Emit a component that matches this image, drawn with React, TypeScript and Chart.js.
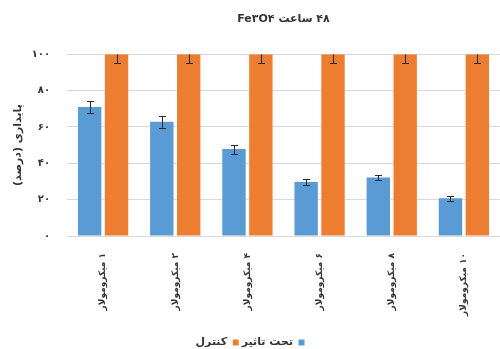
import { useEffect, useRef } from 'react';
import { Chart, registerables } from 'chart.js';

Chart.register(...registerables);

// Concentrations on the category axis
const concentrations = ['۱ میکرومولار', '۲ میکرومولار', '۴ میکرومولار', '۶ میکرومولار', '۸ میکرومولار', '۱۰ میکرومولار'];
// Viability (%) of treated cells and their error margins
const treatedValues = [71, 62.8, 47.8, 29.7, 32.2, 20.7];
const treatedErrors = [3.5, 3.3, 2.5, 1.6, 1.5, 1.2];
// Control viability (%) and error margins
const controlValues = [100, 100, 100, 100, 100, 100];
const controlErrors = [5, 5, 5, 5, 5, 5];
// Value axis ticks
const yTickValues = [0, 20, 40, 60, 80, 100];
const seriesNames = ['تحت تاثیر', 'کنترل'];
const chartTitle = '۴۸ ساعت Fe۳O۴';
const yAxisTitle = 'پایداری (درصد)';

const FONT = '"DejaVu Sans", sans-serif';
const TEXT = '#333333';
const RLE = '\u202B';
const PDF = '\u202C';

const toPersianDigits = (n: number | string) =>
  String(n).replace(/\d/g, (d) => '۰۱۲۳۴۵۶۷۸۹'[Number(d)]);

// Draws symmetric error bars with caps on top of each bar
const errorBarsPlugin = {
  id: 'errorBars',
  afterDatasetsDraw(chart: any) {
    const { ctx, chartArea } = chart;
    const yScale = chart.scales.y;
    ctx.save();
    ctx.beginPath();
    ctx.rect(chartArea.left, chartArea.top, chartArea.right - chartArea.left, chartArea.bottom - chartArea.top);
    ctx.clip();
    ctx.strokeStyle = '#2b2b2b';
    ctx.lineWidth = 1;
    chart.data.datasets.forEach((ds: any, di: number) => {
      const meta = chart.getDatasetMeta(di);
      meta.data.forEach((bar: any, i: number) => {
        const v = ds.data[i];
        const e = ds.errors[i];
        const x = Math.round(bar.x) + 0.5;
        const yHi = Math.round(yScale.getPixelForValue(v + e)) + 0.5;
        const yLo = Math.round(yScale.getPixelForValue(v - e)) + 0.5;
        const cap = 3.5;
        ctx.beginPath();
        ctx.moveTo(x, yHi);
        ctx.lineTo(x, yLo);
        ctx.moveTo(x - cap, yHi);
        ctx.lineTo(x + cap, yHi);
        ctx.moveTo(x - cap, yLo);
        ctx.lineTo(x + cap, yLo);
        ctx.stroke();
      });
    });
    ctx.restore();
  },
};

export default function App() {
  const canvasRef = useRef<HTMLCanvasElement | null>(null);

  useEffect(() => {
    if (!canvasRef.current) return;
    const chart = new Chart(canvasRef.current, {
      type: 'bar',
      data: {
        labels: concentrations,
        datasets: [
          {
            label: seriesNames[0],
            data: treatedValues,
            errors: treatedErrors,
            backgroundColor: '#5b9bd5',
            categoryPercentage: 0.745,
            barPercentage: 0.87,
          } as any,
          {
            label: seriesNames[1],
            data: controlValues,
            errors: controlErrors,
            backgroundColor: '#ed7d31',
            categoryPercentage: 0.745,
            barPercentage: 0.87,
          } as any,
        ],
      },
      options: {
        responsive: false,
        animation: false,
        layout: { padding: { left: 0, right: 0, top: 0, bottom: -9 } },
        plugins: {
          tooltip: { enabled: false },
          title: {
            display: true,
            text: RLE + chartTitle + PDF,
            fullSize: false,
            color: TEXT,
            font: { family: FONT, size: 11, weight: 'bold', lineHeight: 1.2 },
            padding: { top: 13, bottom: 28 },
          },
          legend: {
            position: 'bottom',
            rtl: true,
            textDirection: 'rtl',
            labels: {
              boxWidth: 6,
              boxHeight: 6,
              padding: 3,
              color: TEXT,
              font: { family: FONT, size: 11, weight: 'bold' },
            },
          },
        },
        scales: {
          x: {
            grid: { display: false },
            border: { display: false },
            ticks: {
              autoSkip: false,
              minRotation: 90,
              maxRotation: 90,
              padding: 9,
              color: TEXT,
              font: { family: FONT, size: 9, weight: 'bold' },
              callback: (_v: any, i: number) => RLE + concentrations[i] + PDF,
            },
            afterFit: (scale: any) => {
              const legendHeight = scale.chart.legend ? scale.chart.legend.height : 0;
              scale.height = 349 + 9 - 236 - legendHeight;
            },
          },
          y: {
            min: yTickValues[0],
            max: yTickValues[yTickValues.length - 1],
            afterBuildTicks: (scale: any) => {
              scale.ticks = yTickValues.map((value) => ({ value }));
            },
            grid: { color: '#d9d9d9', drawTicks: false },
            border: { display: false },
            ticks: {
              padding: 17,
              color: TEXT,
              font: { family: FONT, size: 10, weight: 'bold' },
              callback: (v: any) => toPersianDigits(v),
            },
            title: {
              display: true,
              text: RLE + yAxisTitle + PDF,
              color: TEXT,
              font: { family: FONT, size: 11, weight: 'bold', lineHeight: 1.2 },
              padding: { top: 12, bottom: 0 },
            },
            afterFit: (scale: any) => {
              scale.width = 67;
            },
          },
        },
      },
      plugins: [errorBarsPlugin],
    });
    return () => chart.destroy();
  }, []);

  return (
    <div style={{ position: 'fixed', left: 0, top: 0, width: 500, height: 349, background: '#ffffff' }}>
      <canvas ref={canvasRef} width={500} height={349} style={{ display: 'block' }} />
    </div>
  );
}
